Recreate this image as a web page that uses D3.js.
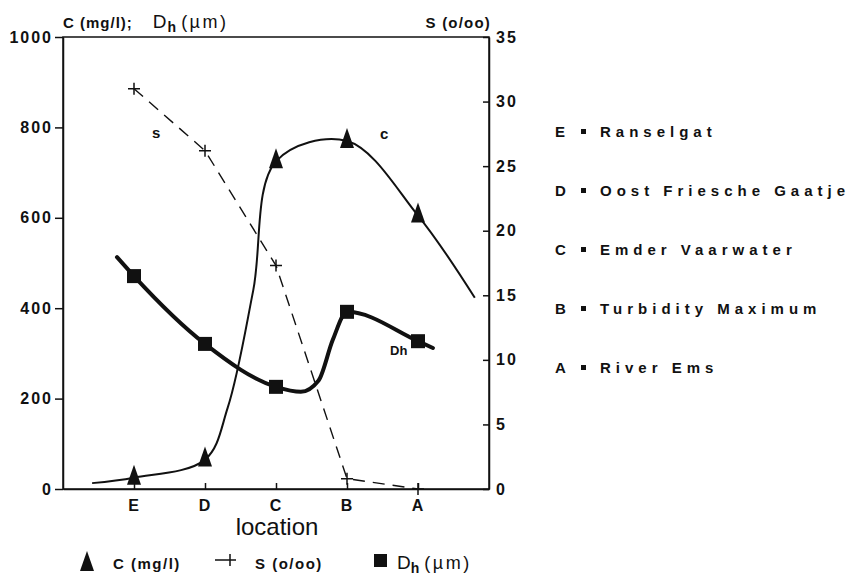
<!DOCTYPE html>
<html>
<head>
<meta charset="utf-8">
<script src="https://cdn.jsdelivr.net/npm/d3@7"></script>
<style>
  body { margin: 0; background: #fff; }
  svg { font-family: 'Liberation Sans', Arial, sans-serif; font-weight: bold; }
</style>
</head>
<body>
<svg id="chart" width="861" height="581"></svg>
<script>
const locations = ['E', 'D', 'C', 'B', 'A']
const locationNames = ['Ranselgat', 'Oost Friesche Gaatje', 'Emder Vaarwater', 'Turbidity Maximum', 'River Ems']
const concentration = [25, 65, 725, 770, 605] // C (mg/l)
const salinity = [31, 26.2, 17.3, 0.8, 0] // S (o/oo)
const diameter = [471, 321, 226, 392, 327] // Dh (um)

// extra points of the hand drawn curves (position E=1 ... A=5, value)
const cCurveKnots = [[0.41, 13], [2.32, 180], [2.68, 440], [5.8, 423]]
const dhCurveKnots = [[0.76, 513], [3.35, 215], [3.6, 240], [3.8, 330], [5.21, 312]]

const leftTicks = [0, 200, 400, 600, 800, 1000]
const rightTicks = [0, 5, 10, 15, 20, 25, 30, 35]

const svg = d3.select('#chart')
const plotLeft = 63, plotRight = 489, plotTop = 37, plotBottom = 489

const x = d3.scaleLinear().domain([0, 6]).range([plotLeft, plotRight])
const yL = d3.scaleLinear().domain([0, 1000]).range([plotBottom, plotTop])
const yR = d3.scaleLinear().domain([0, 35]).range([plotBottom, plotTop])
const pos = (d, i) => x(i + 1)

// frame
svg.append('rect')
  .attr('x', plotLeft).attr('y', plotTop)
  .attr('width', plotRight - plotLeft).attr('height', plotBottom - plotTop)
  .attr('fill', 'none').attr('stroke', '#111').attr('stroke-width', 1.5)

const leftAxis = svg.append('g')
  .attr('transform', `translate(${plotLeft},0)`)
  .call(d3.axisLeft(yL).tickValues(leftTicks).tickFormat(d3.format('d'))
    .tickSize(8).tickPadding(2).tickSizeOuter(0))
const rightAxis = svg.append('g')
  .attr('transform', `translate(${plotRight},0)`)
  .call(d3.axisRight(yR).tickValues(rightTicks).tickSizeInner(-6).tickPadding(7).tickSizeOuter(0))
const xAxis = svg.append('g')
  .attr('transform', `translate(0,${plotBottom})`)
  .call(d3.axisBottom(x).tickValues([1, 2, 3, 4, 5]).tickFormat((d) => locations[d - 1])
    .tickSizeInner(-6).tickPadding(11).tickSizeOuter(0))

;[leftAxis, rightAxis, xAxis].forEach((g) => {
  g.select('.domain').attr('stroke', '#111').attr('stroke-width', 1.5)
  g.selectAll('.tick line').attr('stroke', '#111').attr('stroke-width', 1.5)
  g.selectAll('.tick text').attr('fill', '#111').style('font-size', '16px')
    .style('font-family', "'Liberation Sans', Arial, sans-serif").style('font-weight', 'bold')
    .style('letter-spacing', '2px')
})

// curves
const byPos = (a, b) => a[0] - b[0]
const cPts = concentration.map((v, i) => [i + 1, v]).concat(cCurveKnots).sort(byPos)
const dhPts = diameter.map((v, i) => [i + 1, v]).concat(dhCurveKnots).sort(byPos)

const smooth = d3.line().x((d) => x(d[0])).y((d) => yL(d[1])).curve(d3.curveMonotoneX)
const rounded = d3.line().x((d) => x(d[0])).y((d) => yL(d[1])).curve(d3.curveCatmullRom.alpha(0.5))

svg.append('path').attr('d', rounded(cPts))
  .attr('fill', 'none').attr('stroke', '#111').attr('stroke-width', 2)
svg.append('path').attr('d', smooth(dhPts))
  .attr('fill', 'none').attr('stroke', '#111').attr('stroke-width', 4).attr('stroke-linecap', 'round')
svg.append('path')
  .attr('d', d3.line().x(pos).y((d) => yR(d))(salinity))
  .attr('fill', 'none').attr('stroke', '#111').attr('stroke-width', 1.4)
  .attr('stroke-dasharray', '12,8')

// markers
const tri = 'M0,-13L7,7L-7,7Z'
svg.selectAll('.tri').data(concentration).enter().append('path')
  .attr('class', 'tri')
  .attr('d', tri)
  .attr('transform', (d, i) => `translate(${pos(d, i)},${yL(d)})`)
  .attr('fill', '#111')

svg.selectAll('.sq').data(diameter).enter().append('rect')
  .attr('class', 'sq')
  .attr('x', (d, i) => pos(d, i) - 7).attr('y', (d) => yL(d) - 7)
  .attr('width', 14).attr('height', 14).attr('fill', '#111')

const cross = 'M-6,0H6M0,-6V6'
svg.selectAll('.cross').data(salinity).enter().append('path')
  .attr('class', 'cross')
  .attr('d', cross)
  .attr('transform', (d, i) => `translate(${pos(d, i)},${yR(d)})`)
  .attr('stroke', '#111').attr('stroke-width', 1.5)

// labels in the plot
const inLabel = (tx, ty, txt) =>
  svg.append('text').attr('x', tx).attr('y', ty).attr('font-size', 15).attr('fill', '#111').text(txt)
inLabel(152, 138, 's')
inLabel(380, 139, 'c')
inLabel(390, 355, 'Dh').attr('font-size', 13)

// axis titles
const lt = svg.append('text').attr('x', 63).attr('y', 28).attr('font-size', 15).attr('fill', '#111')
  .style('letter-spacing', '1px')
lt.append('tspan').text('C (mg/l);')
lt.append('tspan').attr('dx', 20).attr('font-size', 19).attr('font-weight', 'normal').text('D')
lt.append('tspan').attr('dy', 4).attr('font-size', 14).text('h')
lt.append('tspan').attr('dy', -4).attr('dx', 4).attr('font-size', 18).attr('font-weight', 'normal')
  .style('letter-spacing', '2.5px').text('(µm)')

svg.append('text').attr('x', 491).attr('y', 28).attr('text-anchor', 'end')
  .attr('font-size', 15).attr('fill', '#111').style('letter-spacing', '1.2px').text('S (o/oo)')

svg.append('text').attr('x', 277).attr('y', 535).attr('text-anchor', 'middle')
  .attr('font-size', 24).attr('font-weight', 'normal').attr('fill', '#111').text('location')

// station names
const st = svg.append('g')
locations.forEach((code, i) => {
  const yy = 137 + i * 59
  st.append('text').attr('x', 555).attr('y', yy).attr('font-size', 15).attr('fill', '#111').text(code)
  st.append('rect').attr('x', 581).attr('y', yy - 8).attr('width', 5).attr('height', 5).attr('fill', '#111')
  st.append('text').attr('x', 600).attr('y', yy).attr('font-size', 15).attr('fill', '#111')
    .style('letter-spacing', '5px').text(locationNames[i])
})

// legend
const lg = svg.append('g')
lg.append('path').attr('d', tri).attr('transform', 'translate(87,564)').attr('fill', '#111')
lg.append('text').attr('x', 113).attr('y', 569).attr('font-size', 15).attr('fill', '#111')
  .style('letter-spacing', '1.5px').text('C (mg/l)')
lg.append('path').attr('d', 'M215,560H236M230,554V566').attr('stroke', '#111').attr('stroke-width', 1.5)
lg.append('text').attr('x', 255).attr('y', 569).attr('font-size', 15).attr('fill', '#111')
  .style('letter-spacing', '1.5px').text('S (o/oo)')
lg.append('rect').attr('x', 374).attr('y', 554).attr('width', 13).attr('height', 13).attr('fill', '#111')
const ld = lg.append('text').attr('x', 397).attr('y', 569).attr('font-size', 19).attr('font-weight', 'normal').attr('fill', '#111')
ld.append('tspan').text('D')
ld.append('tspan').attr('dy', 4).attr('font-size', 14).attr('font-weight', 'bold').text('h')
ld.append('tspan').attr('dy', -4).attr('dx', 5).attr('font-size', 18).style('letter-spacing', '2.5px').text('(µm)')
</script>
</body>
</html>
